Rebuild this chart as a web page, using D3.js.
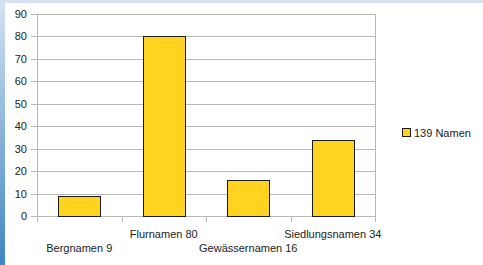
<!DOCTYPE html>
<html>
<head>
<meta charset="utf-8">
<script src="https://cdn.jsdelivr.net/npm/d3@7"></script>
<style>
  body { margin: 0; background: #fff; }
  svg { display: block; font-family: "Liberation Sans", Arial, sans-serif; }
</style>
</head>
<body>
<div id="chart"></div>
<script>
// données du graphique
const categories = ["Bergnamen 9", "Flurnamen 80", "Gewässernamen 16", "Siedlungsnamen 34"];
const valeurs = [9, 80, 16, 34];
const yTicks = [0, 10, 20, 30, 40, 50, 60, 70, 80, 90];
const serie = "139 Namen";

const width = 483;
const height = 265;
const margin = { top: 14, right: 108, bottom: 49, left: 37 };

const svg = d3.select("#chart")
    .append("svg")
    .attr("width", width)
    .attr("height", height);

// cadre bleu à gauche et en haut
const defs = svg.append("defs");
const grad = defs.append("linearGradient")
    .attr("id", "bord")
    .attr("x1", 0).attr("y1", 0).attr("x2", 0).attr("y2", 1);
grad.append("stop").attr("offset", "0%").attr("stop-color", "#d6e2f3");
grad.append("stop").attr("offset", "100%").attr("stop-color", "#3f86c2");

svg.append("rect").attr("x", 0).attr("y", 0).attr("width", width).attr("height", 3)
    .attr("fill", "#d6e2f3");
svg.append("rect").attr("x", 0).attr("y", 0).attr("width", 5).attr("height", height)
    .attr("fill", "url(#bord)");

const x = d3.scaleBand()
    .domain(categories)
    .range([margin.left, width - margin.right])
    .paddingInner(0.5)
    .paddingOuter(0.25);

const xCase = d3.scaleBand()
    .domain(categories)
    .range([margin.left, width - margin.right]);

const y = d3.scaleLinear()
    .domain([0, 90])
    .range([height - margin.bottom, margin.top]);

// grille horizontale
svg.append("g")
    .selectAll("line")
    .data(yTicks)
    .enter().append("line")
    .attr("x1", margin.left - 6)
    .attr("x2", width - margin.right)
    .attr("y1", d => Math.round(y(d)) + 0.5)
    .attr("y2", d => Math.round(y(d)) + 0.5)
    .attr("stroke", "#b8b8b8");

// bords verticaux
[margin.left, width - margin.right].forEach(px => {
    svg.append("line")
        .attr("x1", px + 0.5).attr("x2", px + 0.5)
        .attr("y1", y(90)).attr("y2", y(0))
        .attr("stroke", "#b8b8b8");
});

// graduations de l'axe x (limites des catégories)
const limites = categories.map(c => xCase(c)).concat([width - margin.right]);
svg.append("g")
    .selectAll("line")
    .data(limites)
    .enter().append("line")
    .attr("x1", d => Math.round(d) + 0.5)
    .attr("x2", d => Math.round(d) + 0.5)
    .attr("y1", y(0))
    .attr("y2", y(0) + 6)
    .attr("stroke", "#b8b8b8");

// étiquettes y
svg.append("g")
    .selectAll("text")
    .data(yTicks)
    .enter().append("text")
    .attr("x", margin.left - 10)
    .attr("y", d => y(d) + 4)
    .attr("text-anchor", "end")
    .attr("font-size", "11px")
    .attr("fill", "#222")
    .text(d => d);

// barres
svg.append("g")
    .selectAll("rect")
    .data(valeurs)
    .enter().append("rect")
    .attr("x", (d, i) => Math.round(x(categories[i])) + 0.5)
    .attr("y", d => Math.round(y(d)) + 0.5)
    .attr("width", Math.round(x.bandwidth()))
    .attr("height", d => Math.round(y(0)) - Math.round(y(d)))
    .attr("fill", "#ffd320")
    .attr("stroke", "#1a1a1a");

// étiquettes x en quinconce
svg.append("g")
    .selectAll("text")
    .data(categories)
    .enter().append("text")
    .attr("x", d => x(d) + x.bandwidth() / 2)
    .attr("y", (d, i) => i % 2 === 0 ? 252 : 238)
    .attr("text-anchor", "middle")
    .attr("font-size", "11px")
    .attr("fill", "#222")
    .text(d => d);

// légende
const legende = svg.append("g");
legende.append("rect")
    .attr("x", 402.5).attr("y", 128.5)
    .attr("width", 8).attr("height", 8)
    .attr("fill", "#ffd320")
    .attr("stroke", "#1a1a1a");
legende.append("text")
    .attr("x", 414).attr("y", 137)
    .attr("font-size", "11px")
    .attr("fill", "#222")
    .text(serie);
</script>
</body>
</html>
